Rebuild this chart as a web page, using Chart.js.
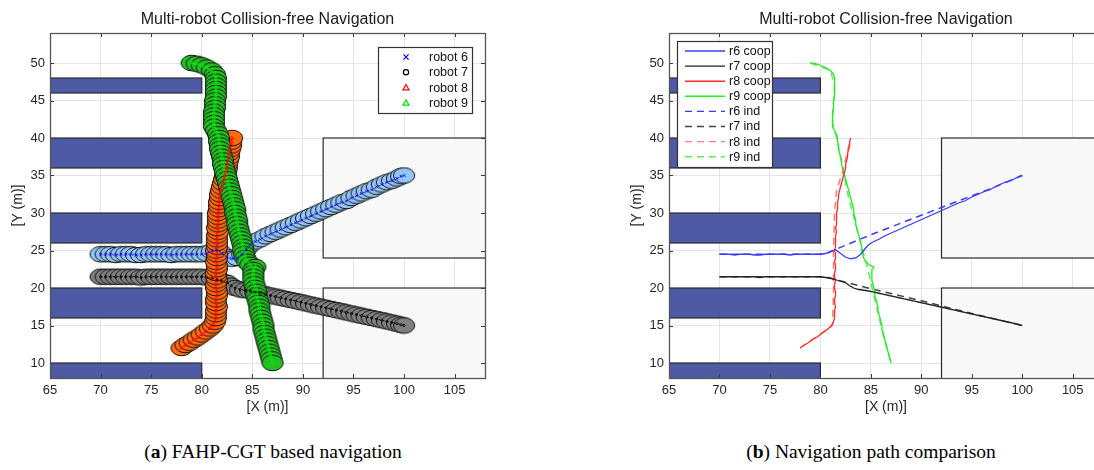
<!DOCTYPE html>
<html><head><meta charset="utf-8">
<script src="https://cdn.jsdelivr.net/npm/chart.js@4.4.1/dist/chart.umd.min.js"></script>
<style>
html,body{margin:0;padding:0;background:#fff;width:1094px;height:470px;overflow:hidden;position:relative}
#ca{position:absolute;left:0;top:0}
#cb{position:absolute;left:619px;top:0}
.cap{position:absolute;top:441px;font-family:"Liberation Serif","DejaVu Serif",serif;font-size:19.5px;color:#000;text-align:center;white-space:nowrap}
</style></head><body>
<canvas id="ca" width="535" height="425"></canvas>
<canvas id="cb" width="534" height="425"></canvas>
<div class="cap" style="left:0;width:546px">(<b>a</b>) FAHP-CGT based navigation</div>
<div class="cap" style="left:621px;width:500px">(<b>b</b>) Navigation path comparison</div>
<script>
// ---------- data ----------
const chartTitle = 'Multi-robot Collision-free Navigation';
const xTickValues = [65,70,75,80,85,90,95,100,105];
const yTickValues = [10,15,20,25,30,35,40,45,50];
const xRange = [65,108];
const yRange = [8,54];

const blueObsX = [[60,80],[60,80],[60,80],[60,80],[60,80]];
const blueObsY = [[46,48],[36,40],[26,30],[16,20],[4,10]];
const grayObsX = [[92,115],[92,115]];
const grayObsY = [[24,40],[4,20]];

// cooperative (FAHP-CGT) trajectories
const r6x = [70,70.5,71,71.5,72,72.5,73,73.5,74,74.5,75,75.5,76,76.5,77,77.5,78,78.5,79,79.5,80,80.5,81,81.5,82,82.5,83,83.5,84,84.4,84.8,85.3,85.8,86.3,86.8,87.3,87.8,88.3,88.8,89.3,89.8,90.3,90.8,91.3,91.8,92.3,92.8,93.3,93.8,94.3,94.8,95.3,95.8,96.3,96.8,97.3,97.8,98.3,98.8,99.3,99.7,100];
const r6y = [24.5,24.5,24.5,24.4,24.5,24.5,24.5,24.4,24.4,24.5,24.5,24.5,24.5,24.5,24.4,24.5,24.5,24.5,24.5,24.5,24.5,24.6,24.9,25.1,24.6,24.1,23.9,24.0,24.5,25.2,25.8,26.2,26.5,26.9,27.2,27.5,27.8,28.1,28.4,28.7,29.0,29.3,29.6,29.9,30.2,30.5,30.8,31.1,31.4,31.6,32.0,32.3,32.6,32.9,33.1,33.5,33.8,34.1,34.3,34.6,34.9,35.0];
const r7x = [70,70.5,71,71.5,72,72.5,73,73.5,74,74.5,75,75.5,76,76.5,77,77.5,78,78.5,79,79.5,80,80.5,81,81.5,82,82.5,82.9,83.3,83.8,84.3,84.8,85.3,85.8,86.3,86.8,87.3,87.8,88.3,88.8,89.3,89.8,90.3,90.8,91.3,91.8,92.3,92.8,93.3,93.8,94.3,94.8,95.3,95.8,96.3,96.8,97.3,97.8,98.3,98.8,99.3,99.7,100];
const r7y = [21.5,21.5,21.5,21.5,21.5,21.5,21.5,21.5,21.4,21.5,21.5,21.5,21.5,21.5,21.5,21.5,21.5,21.5,21.5,21.5,21.5,21.4,21.3,21.1,20.9,20.7,20.3,20.0,19.8,19.7,19.6,19.45,19.3,19.15,19.0,18.85,18.7,18.55,18.4,18.25,18.1,17.95,17.8,17.65,17.5,17.35,17.2,17.05,16.9,16.75,16.6,16.45,16.3,16.15,16.0,15.85,15.7,15.55,15.4,15.25,15.1,15.0];
const r8x = [78,78.4,78.8,79.2,79.6,80,80.4,80.8,81.1,81.3,81.4,81.4,81.4,81.5,81.4,81.4,81.5,81.5,81.4,81.4,81.5,81.4,81.4,81.5,81.5,81.4,81.5,81.5,81.4,81.5,81.5,81.5,81.5,81.6,81.5,81.6,81.6,81.6,81.6,81.7,81.7,81.7,81.8,81.8,81.9,82,82.1,82.2,82.3,82.4,82.5,82.5,82.6,82.7,82.7,82.8,82.9,82.9,83];
const r8y = [12,12.4,12.7,13.1,13.4,13.8,14.2,14.6,15,15.5,16,16.5,17,17.5,18,18.5,19,19.5,20,20.5,21,21.5,22,22.5,23,23.5,24,24.5,25,25.5,26,26.5,27,27.5,28,28.5,29,29.5,30,30.5,31,31.5,32,32.5,33,33.5,34,34.5,35,35.5,36,36.5,37,37.5,38,38.5,39,39.5,40];
const r9x = [79,79.5,80,80.5,81,81.3,81.4,81.4,81.4,81.4,81.4,81.4,81.3,81.3,81.3,81.2,81.2,81.2,81.2,81.2,81.4,81.6,81.7,81.7,81.8,81.8,81.9,82,82.1,82.1,82.2,82.3,82.4,82.5,82.6,82.7,82.8,82.9,83,83.1,83.2,83.3,83.3,83.4,83.5,83.5,83.6,83.7,83.8,83.9,84,84.1,84.1,84.2,84.3,84.5,84.8,85.3,85.1,85.1,85.1,85.1,85.2,85.3,85.4,85.4,85.5,85.6,85.7,85.7,85.8,85.9,86,86.1,86.1,86.2,86.3,86.4,86.5,86.6,86.7,86.8,86.9,87];
const r9y = [50,49.9,49.7,49.4,49,48.5,48,47.5,47,46.5,46,45.5,45,44.5,44,43.5,43,42.5,42,41.5,41,40.5,40,39.5,39,38.5,38,37.5,37,36.5,36,35.5,35,34.5,34,33.5,33,32.5,32,31.5,31,30.5,30,29.5,29,28.5,28,27.5,27,26.5,26,25.5,25,24.5,24,23.5,23.1,22.8,22.4,22,21.5,21,20.5,20,19.5,19,18.5,18,17.5,17,16.5,16,15.5,15,14.5,14,13.5,13,12.5,12,11.5,11,10.5,10];

// independent trajectories
const r6indX = [70,75,80.5,81.6,85,90,95,97,100];
const r6indY = [24.5,24.5,24.5,25.2,27.1,29.7,32.3,33.3,35];
const r7indX = [70,75,80.5,81.5,83,85,90,95,100];
const r7indY = [21.5,21.5,21.5,21.1,20.6,19.9,18.3,16.6,15];
const r8indX = [78,81.2,81.3,81.3,81.4,81.6,82.2,83];
const r8indY = [12,15,20,25,30,33,35.5,40];
const r9indX = [79,81,81.4,81.2,81.6,82.2,82.8,83.6,84.3,84.6,85.3,86,87];
const r9indY = [50,49,47,42,40,36,32,28,24.5,23,19,15,10];

const leftLegendLabels = ['robot 6','robot 7','robot 8','robot 9'];
const rightLegendLabels = ['r6 coop','r7 coop','r8 coop','r9 coop','r6 ind','r7 ind','r8 ind','r9 ind'];

// ---------- helpers ----------
const FONT = '"Liberation Sans", Arial, sans-serif';
const TXT = '#262626';
const pts = (xs, ys) => xs.map((x, i) => ({x: x, y: ys[i]}));
function ellipse(fill){
  const c = document.createElement('canvas'); c.width = 24; c.height = 18;
  const g = c.getContext('2d');
  g.beginPath(); g.ellipse(12, 9, 10.6, 7.8, 0, 0, 2*Math.PI);
  g.fillStyle = fill; g.fill(); g.lineWidth = 1; g.strokeStyle = '#151515'; g.stroke();
  return c;
}
function scales(){
  return {
    x: {type:'linear', min:xRange[0], max:xRange[1],
      afterBuildTicks: s => { s.ticks = xTickValues.map(v => ({value:v})); },
      afterFit: s => { s.height = 47; },
      grid: {color:'#E4E4E4', drawTicks:false}, border: {display:false},
      ticks: {padding:5, color:TXT, font:{family:FONT, size:13}, maxRotation:0, autoSkip:false},
      title: {display:true, text:'[X (m)]', color:TXT, font:{family:FONT, size:14}, padding:{top:0, bottom:9}}},
    y: {type:'linear', min:yRange[0], max:yRange[1],
      afterBuildTicks: s => { s.ticks = yTickValues.map(v => ({value:v})); },
      afterFit: s => { s.width = 50; },
      grid: {color:'#E4E4E4', drawTicks:false}, border: {display:false},
      ticks: {padding:5, color:TXT, font:{family:FONT, size:13}, autoSkip:false},
      title: {display:true, text:'[Y (m)]', color:TXT, font:{family:FONT, size:14}, padding:{top:10, bottom:0}}},
    y2: {type:'linear', position:'right', min:yRange[0], max:yRange[1], display:true,
      afterFit: s => { s.width = 50; },
      grid: {display:false}, border: {display:false}, ticks: {display:false}}
  };
}
const obstaclePlugin = {
  id: 'obstacles',
  beforeDatasetsDraw(chart){
    const {ctx, chartArea:a, scales:{x, y}} = chart;
    ctx.save();
    ctx.beginPath(); ctx.rect(a.left, a.top, a.right - a.left, a.bottom - a.top); ctx.clip();
    const draw = (xs, ys, fill) => {
      xs.forEach((xr, i) => {
        const x0 = x.getPixelForValue(xr[0]), x1 = x.getPixelForValue(xr[1]);
        const y0 = y.getPixelForValue(ys[i][1]), y1 = y.getPixelForValue(ys[i][0]);
        ctx.fillStyle = fill; ctx.fillRect(x0, y0, x1 - x0, y1 - y0);
        ctx.strokeStyle = '#2b2b2b'; ctx.lineWidth = 1.2;
        ctx.strokeRect(x0, y0, x1 - x0, y1 - y0);
      });
    };
    draw(blueObsX, blueObsY, '#4F5AA4');
    draw(grayObsX, grayObsY, '#F8F8F8');
    ctx.restore();
  }
};
const framePlugin = {
  id: 'frame',
  afterDatasetsDraw(chart){
    const {ctx, chartArea:a, scales:{x, y}} = chart;
    ctx.save();
    ctx.strokeStyle = '#3a3a3a'; ctx.lineWidth = 1;
    ctx.beginPath();
    xTickValues.forEach(v => { const px = Math.round(x.getPixelForValue(v)) + 0.5;
      ctx.moveTo(px, a.bottom); ctx.lineTo(px, a.bottom - 4); ctx.moveTo(px, a.top); ctx.lineTo(px, a.top + 4); });
    yTickValues.forEach(v => { const py = Math.round(y.getPixelForValue(v)) + 0.5;
      ctx.moveTo(a.left, py); ctx.lineTo(a.left + 4, py); ctx.moveTo(a.right, py); ctx.lineTo(a.right - 4, py); });
    ctx.stroke();
    ctx.strokeStyle = '#555'; ctx.lineWidth = 1.3;
    ctx.strokeRect(Math.round(a.left) + 0.5, Math.round(a.top) + 0.5, Math.round(a.right - a.left), Math.round(a.bottom - a.top));
    ctx.restore();
  }
};
const boxLegendPlugin = {
  id: 'boxLegend',
  afterDraw(chart, args, o){
    if (!o || !o.items) return;
    const {ctx, chartArea:a} = chart;
    const bx = a.left + o.dx, by = a.top + o.dy;
    ctx.save();
    ctx.fillStyle = '#fff'; ctx.fillRect(bx, by, o.w, o.h);
    ctx.strokeStyle = '#333'; ctx.lineWidth = 1.2; ctx.strokeRect(Math.round(bx)+0.5, Math.round(by)+0.5, o.w, o.h);
    ctx.font = '12.5px ' + FONT; ctx.textBaseline = 'middle'; ctx.fillStyle = '#111';
    o.items.forEach((it, i) => {
      const cy = by + o.first + i * o.step;
      ctx.strokeStyle = it.color; ctx.lineWidth = it.lw || 1.2;
      if (it.kind === 'line') {
        ctx.setLineDash(it.dash || []);
        ctx.beginPath(); ctx.moveTo(bx + o.sx, cy); ctx.lineTo(bx + o.sx + o.len, cy); ctx.stroke();
        ctx.setLineDash([]);
      } else {
        const mx = bx + o.sx, r = 2.6;
        ctx.beginPath();
        if (it.kind === 'x') { ctx.moveTo(mx-r, cy-r); ctx.lineTo(mx+r, cy+r); ctx.moveTo(mx-r, cy+r); ctx.lineTo(mx+r, cy-r); }
        else if (it.kind === 'o') { ctx.arc(mx, cy, r, 0, 2*Math.PI); }
        else { ctx.moveTo(mx, cy-r-0.5); ctx.lineTo(mx+r+0.4, cy+r-0.3); ctx.lineTo(mx-r-0.4, cy+r-0.3); ctx.closePath(); }
        ctx.stroke();
      }
      ctx.fillStyle = '#111';
      ctx.fillText(it.label, bx + o.tx, cy + 0.5);
    });
    ctx.restore();
  }
};
function baseOptions(){
  return {
    responsive:false, animation:false, events:[],
    layout:{padding:0},
    scales: scales(),
    plugins:{
      legend:{display:false}, tooltip:{enabled:false},
      title:{display:true, text:chartTitle, color:'#1a1a1a', font:{family:FONT, size:16, weight:'normal'}, padding:{top:10, bottom:3.8}}
    }
  };
}

// ---------- chart (a) ----------
const circleSet = (label, xs, ys, fill, order) => ({label, data:pts(xs, ys), order,
  pointStyle: ellipse(fill), pointRadius:10, showLine:false});
const markerSet = (label, xs, ys, color, style, r) => ({label, data:pts(xs, ys), order:0,
  showLine:true, borderColor:color, borderWidth:0.9, borderDash:[2,2],
  pointStyle:style, pointRadius:r, pointBorderColor:color, pointBorderWidth:0.8, pointBackgroundColor:'rgba(0,0,0,0)'});
const optA = baseOptions();
optA.plugins.boxLegend = {dx:328, dy:14, w:94, h:66, first:10, step:15.3, sx:28, tx:51,
  items:[
    {label:leftLegendLabels[0], kind:'x', color:'#0000FF'},
    {label:leftLegendLabels[1], kind:'o', color:'#000'},
    {label:leftLegendLabels[2], kind:'t', color:'#FF0000'},
    {label:leftLegendLabels[3], kind:'t', color:'#00E000'}]};
new Chart(document.getElementById('ca'), {
  type:'scatter',
  data:{datasets:[
    markerSet(leftLegendLabels[0], r6x, r6y, '#0000FF', 'crossRot', 2),
    markerSet(leftLegendLabels[1], r7x, r7y, '#000000', 'circle', 1.1),
    markerSet(leftLegendLabels[2], r8x, r8y, '#FF0000', 'triangle', 2),
    markerSet(leftLegendLabels[3], r9x, r9y, '#00EE00', 'triangle', 2),
    circleSet('r9 body', r9x, r9y, '#22C022', 1),
    circleSet('r8 body', r8x, r8y, '#FF6A10', 2),
    circleSet('r7 body', r7x, r7y, '#808080', 3),
    circleSet('r6 body', r6x, r6y, '#93C6F4', 4)
  ]},
  options: optA,
  plugins:[obstaclePlugin, framePlugin, boxLegendPlugin]
});

// ---------- chart (b) ----------
const lineSet = (label, xs, ys, color, dash, w) => ({label, data:pts(xs, ys), showLine:true,
  borderColor:color, borderWidth:w, borderDash:dash, pointRadius:0, fill:false});
const optB = baseOptions();
const legColors = ['#3B3BFF','#222222','#FF2A2A','#20F020','#3B3BFF','#444444','#FF7A7A','#5CF05C'];
optB.plugins.boxLegend = {dx:8, dy:8, w:95, h:126, first:10, step:15.1, sx:8, len:40, tx:52,
  items: rightLegendLabels.map((l, i) => ({label:l, kind:'line', color:legColors[i], lw:1.4, dash: i >= 4 ? [7,5] : []}))};
new Chart(document.getElementById('cb'), {
  type:'scatter',
  data:{datasets:[
    lineSet(rightLegendLabels[0], r6x, r6y, '#3B3BFF', [], 1.3),
    lineSet(rightLegendLabels[1], r7x, r7y, '#222222', [], 1.3),
    lineSet(rightLegendLabels[2], r8x, r8y, '#FF2A2A', [], 1.3),
    lineSet(rightLegendLabels[3], r9x, r9y, '#20F020', [], 1.3),
    lineSet(rightLegendLabels[4], r6indX, r6indY, '#3B3BFF', [7,5], 1.5),
    lineSet(rightLegendLabels[5], r7indX, r7indY, '#444444', [7,5], 1.5),
    lineSet(rightLegendLabels[6], r8indX, r8indY, '#FF7A7A', [7,5], 1.5),
    lineSet(rightLegendLabels[7], r9indX, r9indY, '#5CF05C', [7,5], 1.5)
  ]},
  options: optB,
  plugins:[obstaclePlugin, framePlugin, boxLegendPlugin]
});
</script>
</body></html>
